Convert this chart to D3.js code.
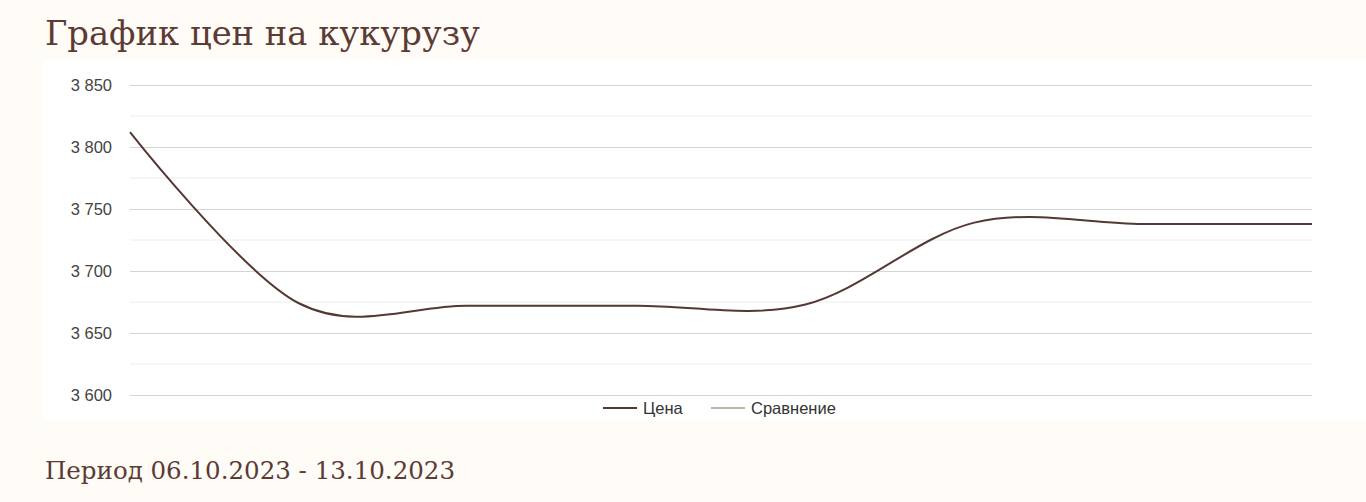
<!DOCTYPE html>
<html>
<head>
<meta charset="utf-8">
<script src="https://cdn.jsdelivr.net/npm/d3@7"></script>
<style>
  html, body { margin: 0; padding: 0; background: #fffbf7; }
  svg { display: block; }
</style>
</head>
<body>
<div id="chart"></div>
<script>
// data: цена кукурузы по дням
var dates = ["06.10", "07.10", "08.10", "09.10", "10.10", "11.10", "12.10", "13.10"];
var prices = [3812, 3674, 3672, 3672, 3673, 3739, 3738, 3738];
var yTicks = [3600, 3650, 3700, 3750, 3800, 3850];
var yMinor = [3625, 3675, 3725, 3775, 3825];
var legendItems = ["Цена", "Сравнение"];
var legendColors = ["#543834", "#b9b8a8"];

var W = 1366, H = 502;
var margin = {top: 85, right: 54, bottom: 107, left: 130};

var svg = d3.select("#chart").append("svg")
    .attr("width", W)
    .attr("height", H);

// фон и белая панель графика
svg.append("rect").attr("width", W).attr("height", H).attr("fill", "#fffbf7");
svg.append("rect")
    .attr("x", 42).attr("y", 60)
    .attr("width", W - 42).attr("height", 360)
    .attr("fill", "#ffffff");

// заголовок
svg.append("text")
    .attr("x", 45).attr("y", 45)
    .attr("font-family", "'DejaVu Serif', serif")
    .attr("font-size", 34)
    .attr("fill", "#5b3b34")
    .attr("textLength", 435)
    .attr("lengthAdjust", "spacingAndGlyphs")
    .text("График цен на кукурузу");

var width = W - margin.left - margin.right,
    height = H - margin.top - margin.bottom;

var xScale = d3.scalePoint().domain(dates).range([0, width]);
var yScale = d3.scaleLinear().domain([3600, 3850]).range([height, 0]);

var g = svg.append("g")
    .attr("transform", "translate(" + margin.left + "," + margin.top + ")");

// промежуточные линии сетки
g.selectAll(".minor").data(yMinor).enter().append("line")
    .attr("class", "minor")
    .attr("x1", 0).attr("x2", width)
    .attr("y1", function(d) { return yScale(d); })
    .attr("y2", function(d) { return yScale(d); })
    .attr("stroke", "#ececec")
    .attr("stroke-width", 1);

// ось Y с основной сеткой
var fmt = function(d) { return d3.format(",")(d).replace(",", " "); };
var yAxis = d3.axisLeft(yScale)
    .tickValues(yTicks)
    .tickSize(-width)
    .tickPadding(18)
    .tickFormat(fmt);

var yAxisEl = g.append("g").attr("class", "y axis").call(yAxis);
yAxisEl.select(".domain").remove();
yAxisEl.selectAll("line").attr("stroke", "#d4d4d4");
yAxisEl.selectAll("text")
    .attr("font-family", "'Liberation Sans', Arial, sans-serif")
    .attr("font-size", 16.5)
    .attr("fill", "#444444");

// линия цены
var line = d3.line()
    .curve(d3.curveCardinal.tension(0))
    .x(function(d, i) { return xScale(dates[i]); })
    .y(function(d) { return yScale(d); });

g.append("path").datum(prices)
    .attr("d", line)
    .attr("fill", "none")
    .attr("stroke", legendColors[0])
    .attr("stroke-width", 2);

// легенда
var legend = svg.append("g").attr("transform", "translate(603,408)");
var offs = [0, 108];
legendItems.forEach(function(name, i) {
  var it = legend.append("g").attr("transform", "translate(" + offs[i] + ",0)");
  it.append("line")
    .attr("x1", 0).attr("x2", 34)
    .attr("stroke", legendColors[i])
    .attr("stroke-width", 2);
  it.append("text")
    .attr("x", 40).attr("y", 5.5)
    .attr("font-family", "'Liberation Sans', Arial, sans-serif")
    .attr("font-size", 16.5)
    .attr("fill", "#333333")
    .text(name);
});

// период
svg.append("text")
    .attr("x", 45).attr("y", 479)
    .attr("font-family", "'DejaVu Serif', serif")
    .attr("font-size", 25)
    .attr("fill", "#5b3b34")
    .attr("textLength", 410)
    .attr("lengthAdjust", "spacingAndGlyphs")
    .text("Период 06.10.2023 - 13.10.2023");
</script>
</body>
</html>
